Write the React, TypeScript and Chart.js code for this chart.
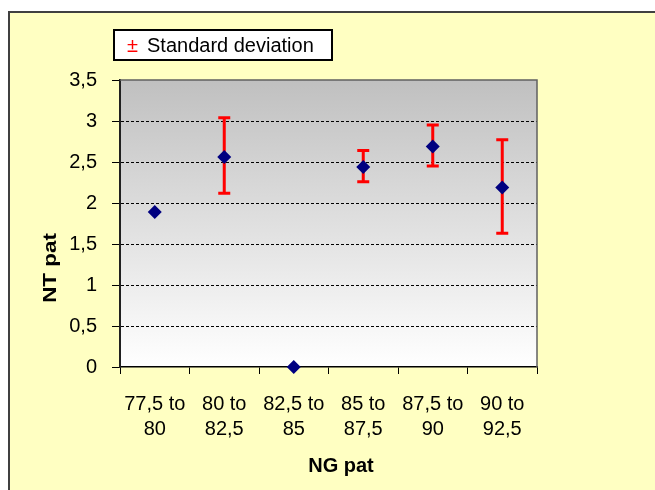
import React, { useEffect, useRef } from "react";
import { Chart, registerables } from "chart.js";

Chart.register(...registerables);

const categories: string[][] = [
  ["77,5 to", "80"],
  ["80 to", "82,5"],
  ["82,5 to", "85"],
  ["85 to", "87,5"],
  ["87,5 to", "90"],
  ["90 to", "92,5"],
];
const meanValues: number[] = [1.89, 2.56, 0, 2.44, 2.69, 2.19];
const sdUpper: (number | null)[] = [null, 3.04, null, 2.64, 2.95, 2.77];
const sdLower: (number | null)[] = [null, 2.12, null, 2.26, 2.45, 1.63];
const yMin = 0;
const yMax = 3.5;
const yStep = 0.5;
const xTitle = "NG pat";
const yTitle = "NT pat";
const legendLabel = "Standard deviation";

const W = 655;
const H = 490;
const FONT = '"Liberation Sans", Arial, sans-serif';

const decorPlugin = {
  id: "decor",
  beforeDraw(chart: any) {
    const { ctx, chartArea } = chart;
    const { left, top, right, bottom } = chartArea;
    ctx.save();
    ctx.fillStyle = "#ffffff";
    ctx.fillRect(0, 0, W, H);
    ctx.fillStyle = "#FFFFC2";
    ctx.fillRect(9, 12, W - 9, H - 12);
    ctx.strokeStyle = "#404040";
    ctx.lineWidth = 2;
    ctx.beginPath();
    ctx.moveTo(9, H);
    ctx.lineTo(9, 12);
    ctx.lineTo(W, 12);
    ctx.stroke();
    const g = ctx.createLinearGradient(0, top, 0, bottom);
    g.addColorStop(0, "#C0C0C0");
    g.addColorStop(1, "#FFFFFF");
    ctx.fillStyle = g;
    ctx.fillRect(left, top, right - left, bottom - top);
    ctx.restore();
  },
  beforeDatasetsDraw(chart: any) {
    const { ctx } = chart;
    const xs = chart.scales.x;
    const ys = chart.scales.y;
    ctx.save();
    ctx.strokeStyle = "#FF0000";
    ctx.lineWidth = 3;
    ctx.lineCap = "butt";
    for (let i = 0; i < meanValues.length; i++) {
      const hi = sdUpper[i];
      const lo = sdLower[i];
      if (hi == null || lo == null) continue;
      const x = xs.getPixelForValue(i);
      const yh = ys.getPixelForValue(hi);
      const yl = ys.getPixelForValue(lo);
      ctx.beginPath();
      ctx.moveTo(x, yh);
      ctx.lineTo(x, yl);
      ctx.moveTo(x - 6, yh);
      ctx.lineTo(x + 6, yh);
      ctx.moveTo(x - 6, yl);
      ctx.lineTo(x + 6, yl);
      ctx.stroke();
    }
    ctx.restore();
  },
  afterDraw(chart: any) {
    const { ctx, chartArea } = chart;
    const { left, top, right, bottom } = chartArea;
    ctx.save();
    // plot frame top/right
    ctx.strokeStyle = "#606060";
    ctx.lineWidth = 1.5;
    ctx.beginPath();
    ctx.moveTo(left, top);
    ctx.lineTo(right, top);
    ctx.lineTo(right, bottom);
    ctx.stroke();
    // legend box
    ctx.fillStyle = "#ffffff";
    ctx.fillRect(114, 30, 218, 30);
    ctx.strokeStyle = "#000000";
    ctx.lineWidth = 2;
    ctx.strokeRect(114, 30, 218, 30);
    ctx.textBaseline = "middle";
    ctx.textAlign = "left";
    ctx.fillStyle = "#FF0000";
    ctx.font = `20px ${FONT}`;
    ctx.fillText("±", 127, 46);
    ctx.fillStyle = "#000000";
    ctx.font = `20px ${FONT}`;
    ctx.fillText(legendLabel, 147, 46);
    // axis titles
    ctx.font = `bold 20px ${FONT}`;
    ctx.textAlign = "center";
    ctx.fillText(xTitle, 341, 466);
    ctx.translate(51, 268);
    ctx.rotate(-Math.PI / 2);
    ctx.scale(1.12, 0.95);
    ctx.fillText(yTitle, 0, 0);
    ctx.restore();
  },
};

export default function App() {
  const ref = useRef<HTMLCanvasElement | null>(null);
  useEffect(() => {
    if (!ref.current) return;
    const chart = new Chart(ref.current, {
      type: "line",
      data: {
        labels: categories,
        datasets: [
          {
            label: "Mean",
            data: meanValues,
            showLine: false,
            pointStyle: "rectRot",
            pointRadius: 7,
            pointHoverRadius: 7,
            pointBackgroundColor: "#000080",
            pointBorderColor: "#000080",
            pointBorderWidth: 0,
            clip: false as any,
          },
        ],
      },
      options: {
        animation: false,
        responsive: false,
        devicePixelRatio: 1,
        events: [],
        layout: { padding: { left: 0, top: 80, right: W - 537, bottom: 0 } },
        plugins: {
          legend: { display: false },
          tooltip: { enabled: false },
        },
        scales: {
          x: {
            type: "category",
            offset: true,
            afterFit: (s: any) => {
              s.height = H - 367;
            },
            grid: {
              offset: true,
              drawOnChartArea: false,
              drawTicks: true,
              tickLength: 7,
              tickColor: "#000000",
              tickWidth: 1,
              color: "#000000",
            },
            border: { display: true, color: "#000000", width: 1.5 },
            ticks: {
              padding: 18,
              maxRotation: 0,
              autoSkip: false,
              color: "#000000",
              font: { family: FONT, size: 20, lineHeight: 1.25 },
            },
          },
          y: {
            min: yMin,
            max: yMax,
            afterFit: (s: any) => {
              s.width = 120;
            },
            grid: {
              color: (c: any) =>
                c.tick && (c.tick.value === yMin || c.tick.value === yMax)
                  ? "rgba(0,0,0,0)"
                  : "#000000",
              lineWidth: 1,
              tickLength: 8,
              tickColor: "#000000",
              tickWidth: 1,
              tickBorderDash: [10, 0],
            } as any,
            border: { display: true, color: "#202020", width: 2, dash: [3, 2] },
            ticks: {
              stepSize: yStep,
              padding: 15,
              color: "#000000",
              font: { family: FONT, size: 20 },
              callback: (v: any) => String(v).replace(".", ","),
            },
          },
        },
      },
      plugins: [decorPlugin],
    });
    return () => chart.destroy();
  }, []);
  return (
    <div style={{ position: "fixed", left: 0, top: 0, width: W, height: H }}>
      <canvas ref={ref} width={W} height={H} style={{ width: W, height: H, display: "block" }} />
    </div>
  );
}
